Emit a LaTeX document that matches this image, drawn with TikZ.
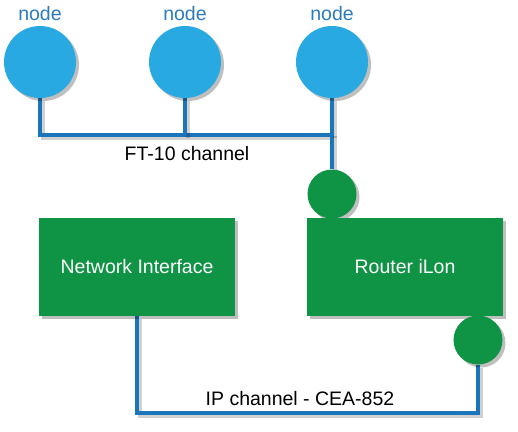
\documentclass[tikz,border=0pt]{standalone}
\usepackage{fontspec}
\setmainfont{Liberation Sans}
\usetikzlibrary{positioning, calc, shadows, backgrounds}
\definecolor{skyblue}{HTML}{29A9E1}
\definecolor{wireblue}{HTML}{1B75BB}
\definecolor{tagblue}{HTML}{2B7BBE}
\definecolor{longreen}{HTML}{0F9446}
\tikzset{
    shade/.style = {drop shadow={shadow xshift=3pt, shadow yshift=-3pt, opacity=0.25, fill=black}},
    devnode/.style = {circle, fill=skyblue, minimum size=72pt, inner sep=0pt, shade},
    port/.style = {circle, fill=longreen, minimum size=49pt, inner sep=0pt, shade},
    unit/.style = {rectangle, fill=longreen, minimum width=196pt, minimum height=98pt,
                   text=white, font=\fontsize{19.5}{22}\selectfont, shade},
    tag/.style = {text=tagblue, font=\fontsize{19.5}{22}\selectfont},
    caption/.style = {text=black, font=\fontsize{19.5}{22}\selectfont},
    bus/.style = {draw=wireblue, line width=4pt,
                  preaction={draw=black, opacity=0.18, line width=4pt,
                             transform canvas={shift={(2.5pt,-3pt)}}}}
}

\begin{document}
\begin{tikzpicture}[x=1pt, y=-1pt]
                \useasboundingbox (0,0) rectangle (518,431);
                \coordinate (ft) at (332,135);
                \coordinate (ip) at (478,413);
                \node[devnode] (n1) at (40,62) {};
                \node[devnode] (n2) at (185,62) {};
                \node[devnode] (n3) at (332,62) {};
                \node[port] (p1) at (332,194) {};
                \node[unit] (ni) at (137,267) {Network Interface};
                \node[unit] (rt) at (405,267) {Router iLon};
                \node[port] (p2) at (478,340) {};
                % wires go under the shapes
                \begin{scope}[on background layer]
                \draw[bus] (n1.south) |- (ft) -- (p1.north);
                \draw[bus] (n2.south) -- (n2.south |- ft);
                \draw[bus] (n3.south) -- (ft);
                \draw[bus] (ni.south) |- (ip) -- (p2.south);
                \end{scope}
                % labels
                \node[tag] (t1) at (40,14) {node};
                \node[tag] (t2) at (185,14) {node};
                \node[tag] (t3) at (332,14) {node};
                \node[caption] (c1) at (187,154) {FT-10 channel};
                \node[caption] (c2) at (300,399) {IP channel - CEA-852};
\end{tikzpicture}
\end{document}
